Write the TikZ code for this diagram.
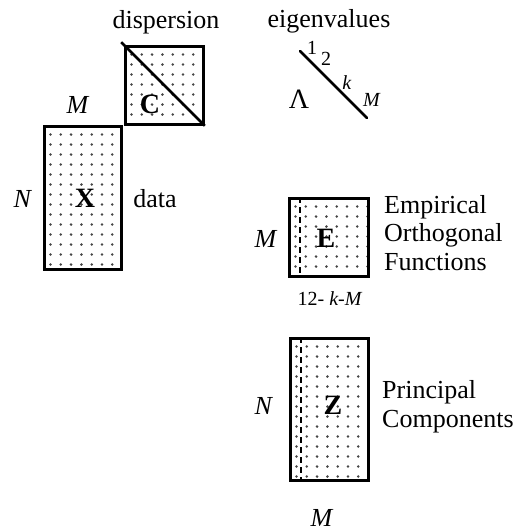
\documentclass[tikz,border=0pt]{standalone}
\usepackage{fontspec}
\setmainfont{Liberation Serif}
\usetikzlibrary{calc}
\definecolor{dotgrey}{RGB}{70,70,70}

\begin{document}
\begin{tikzpicture}[
  x=1pt, y=-1pt,
  lbl/.style={font=\fontsize{26}{28}\selectfont, inner sep=0pt, anchor=base},
  tiny/.style={font=\fontsize{20}{22}\selectfont, inner sep=0pt, anchor=base},
  side/.style={font=\fontsize{26}{28.5}\selectfont, inner sep=0pt, anchor=base west, align=left},
  mat/.style={draw, line width=2.6pt, inner sep=0pt,
    path picture={
      \foreach \i in {0,...,8}
        \foreach \j in {0,...,14}
          \fill[dotgrey] ($(path picture bounding box.north west)+(6+10.3*\i,8+10*\j)$) circle (1.4pt);
    }},
  diag/.style={line width=2.6pt},
  cutline/.style={line width=2.2pt, dash pattern=on 6pt off 4pt}
]
\useasboundingbox (0,0) rectangle (519,531);

% data and dispersion
\node[mat, minimum width=77pt, minimum height=143pt] (X) at (83,198) {};
\node[mat, minimum width=78pt, minimum height=78pt] (C) at (164.5,85.5) {};
\draw[diag] ($(C.north west)+(-3,-3)$) -- (C.south east);

\node[lbl] (disp) at (166,28) {dispersion};
\node[lbl] (mX) at (78,113) {\textit{M}};
\node[lbl, font=\fontsize{28}{30}\selectfont] (cC) at (150,113) {\textbf{C}};
\node[lbl] (nX) at (23,207) {\textit{N}};
\node[lbl, font=\fontsize{28}{30}\selectfont] (xX) at (85,207) {\textbf{X}};
\node[lbl] (data) at (155,207) {data};

% eigenvalues
\node[lbl] (eig) at (329,27) {eigenvalues};
\coordinate (lamA) at (300,51);
\coordinate (lamB) at (367,118);
\draw[diag, line cap=round] (lamA) -- (lamB);
\node[tiny] (one) at (312,54) {1};
\node[tiny] (two) at (326,65) {2};
\node[tiny] (kk) at (347,89) {\textit{k}};
\node[tiny] (mm) at (372,106) {\textit{M}};
\node[lbl, font=\fontsize{28}{30}\selectfont] (lam) at (299,108) {Λ};

% EOFs
\node[mat, minimum width=79pt, minimum height=78pt] (E) at (329,237.5) {};
\draw[cutline] ($(E.north west)+(12,0)$) -- ($(E.south west)+(12,0)$);
\node[lbl, font=\fontsize{28}{30}\selectfont] (eE) at (326,247) {\textbf{E}};
\node[lbl] (mE) at (266,247) {\textit{M}};
\node[side] (eof) at (384,270) {Empirical\\Orthogonal\\Functions};
\node[tiny] (idx) at (330,305) {12- \textit{k-M}};

% principal components
\node[mat, minimum width=78pt, minimum height=142pt] (Z) at (329.5,409.5) {};
\draw[cutline] ($(Z.north west)+(12,0)$) -- ($(Z.south west)+(12,0)$);
\node[lbl, font=\fontsize{28}{30}\selectfont] (zZ) at (333,414) {\textbf{Z}};
\node[lbl] (nZ) at (264,414) {\textit{N}};
\node[side] (pc) at (382,427) {Principal\\Components};
\node[lbl] (mZ) at (322,526) {\textit{M}};
\end{tikzpicture}
\end{document}
